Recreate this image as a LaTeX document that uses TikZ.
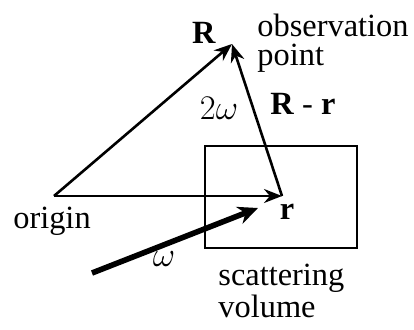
\documentclass[tikz,border=0pt]{standalone}
\usepackage{fontspec}
\setmainfont{Liberation Serif}
\usetikzlibrary{arrows.meta}

\begin{document}
\begin{tikzpicture}[
    x=0.5pt, y=-0.5pt,
    every node/.style={font=\fontsize{16.2}{17}\selectfont, inner sep=0pt},
    arrow/.style={-{Stealth[length=9pt, width=7pt]}, line width=1.3pt},
    beam/.style={-{Stealth[length=10pt, width=9pt]}, line width=2.8pt},
    lbl/.style={align=left, anchor=base west},
  ]
  \useasboundingbox (0,0) rectangle (414,329);

  % ---- points ----
  \coordinate (origin) at (54,196);
  \coordinate (r) at (282,196);
  \coordinate (R) at (232,44);
  \coordinate (wstart) at (92,273);
  \coordinate (wend) at (258,208);

  % ---- scattering volume ----
  \draw[line width=1.3pt] (205,146) rectangle (357,248);

  % ---- vectors ----
  \draw[arrow] (origin) -- (R);
  \draw[arrow] (origin) -- (r);
  \draw[arrow] (r) -- (R);
  \draw[beam] (wstart) -- (wend);

  % ---- labels ----
  \node (lR) at (204,33) {\textbf{R}};
  \node[lbl, font=\fontsize{16.2}{14.5pt}\selectfont] (lobs) at (257,65) {observation\\point};
  \node (l2w) at (219,108) {$2\omega$};
  \node[lbl] (lRr) at (270,114) {\textbf{R} - \textbf{r}};
  \node (lorigin) at (52,221) {origin};
  \node (lr) at (287,212) {\textbf{r}};
  \node (lw) at (164,259) {$\omega$};
  \node[lbl, font=\fontsize{16.2}{14.5pt}\selectfont] (lscat) at (218,317) {scattering\\volume};
\end{tikzpicture}
\end{document}
